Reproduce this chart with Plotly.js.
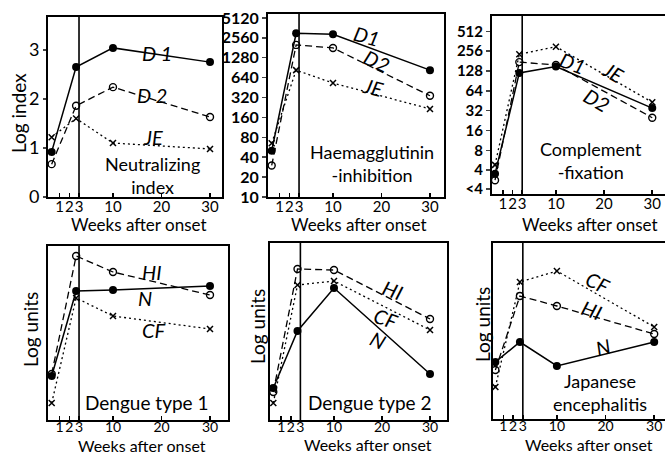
<!DOCTYPE html>
<html><head><meta charset="utf-8">
<script src="https://cdn.plot.ly/plotly-3.0.1.min.js"></script>
<style>html,body{margin:0;padding:0;background:#fff}</style>
</head><body><div id="chart" style="width:665px;height:454px"></div>
<script>
// ---- data ----
const weeks = [0.18, 2.7, 10, 30];
const xTickWeeks = [1, 2, 3, 10, 20, 30];
const xTickText = ['1', '2', '3', '10', '20', '30'];

// Neutralizing index (log index)
const neutD1 = [0.92, 2.65, 3.04, 2.75];
const neutD2 = [0.67, 1.86, 2.24, 1.63];
const neutJE = [1.22, 1.6, 1.1, 0.98];
const neutTicks = [0, 1, 2, 3];

// Haemagglutinin-inhibition titres
const hiD1 = [50, 3000, 2900, 830];
const hiD2 = [30, 2000, 1800, 340];
const hiJE = [65, 830, 530, 215];
const hiTicks = [10, 20, 40, 80, 160, 320, 640, 1280, 2560, 5120];

// Complement-fixation titres
const cfD1 = [3.5, 120, 150, 35];
const cfD2 = [2.8, 175, 158, 25];
const cfJE = [4.8, 230, 300, 43];
const cfTickVals = [2.05, 4, 8, 16, 32, 64, 128, 256, 512];
const cfTickText = ['<4', '4', '8', '16', '32', '64', '128', '256', '512'];

// Dengue type 1 (log units)
const den1N = [2.2, 6.45, 6.5, 6.7];
const den1HI = [2.3, 8.2, 7.4, 6.25];
const den1CF = [0.85, 6.1, 5.2, 4.55];
// Dengue type 2 (log units)
const den2N = [1.6, 4.45, 6.6, 2.3];
const den2HI = [1.4, 7.55, 7.5, 5.05];
const den2CF = [0.85, 6.75, 6.95, 4.5];
// Japanese encephalitis (log units)
const jeN = [2.85, 3.85, 2.65, 3.85];
const jeHI = [2.45, 6.15, 5.65, 4.25];
const jeCF = [1.6, 6.85, 7.4, 4.6];

// ---- broken week scale: first 3 weeks drawn at double width ----
function tx(w) { return w <= 3 ? 2 * w : w + 3; }
const xs = weeks.map(tx);
const xTickVals = xTickWeeks.map(tx);

const W = 665, H = 454;
const FONT = 'Lato, "Open Sans", sans-serif';

const styles = {
  solid: {line: {color: '#000', width: 1.5, dash: 'solid'},
          marker: {symbol: 'circle', size: 8, color: '#000'}},
  dashed: {line: {color: '#000', width: 1.3, dash: '7px,4px'},
           marker: {symbol: 'circle-open', size: 7, color: '#000', line: {width: 1.4, color: '#000'}}},
  dotted: {line: {color: '#000', width: 1.3, dash: '2px,3px'},
           marker: {symbol: 'x-thin', size: 6, color: '#000', line: {width: 1.5, color: '#000'}}}
};

function tr(y, style, ax, name) {
  return {x: xs, y: y, type: 'scatter', mode: 'lines+markers', name: name,
          xaxis: ax[0], yaxis: ax[1], line: styles[style].line, marker: styles[style].marker,
          showlegend: false, hoverinfo: 'skip'};
}

const data = [
  tr(neutD1, 'solid', ['x', 'y'], 'D1'),
  tr(neutD2, 'dashed', ['x', 'y'], 'D2'),
  tr(neutJE, 'dotted', ['x', 'y'], 'JE'),
  tr(hiD1, 'solid', ['x2', 'y2'], 'D1'),
  tr(hiD2, 'dashed', ['x2', 'y2'], 'D2'),
  tr(hiJE, 'dotted', ['x2', 'y2'], 'JE'),
  tr(cfD1, 'solid', ['x3', 'y3'], 'D1'),
  tr(cfD2, 'dashed', ['x3', 'y3'], 'D2'),
  tr(cfJE, 'dotted', ['x3', 'y3'], 'JE'),
  tr(den1N, 'solid', ['x4', 'y4'], 'N'),
  tr(den1HI, 'dashed', ['x4', 'y4'], 'HI'),
  tr(den1CF, 'dotted', ['x4', 'y4'], 'CF'),
  tr(den2N, 'solid', ['x5', 'y5'], 'N'),
  tr(den2HI, 'dashed', ['x5', 'y5'], 'HI'),
  tr(den2CF, 'dotted', ['x5', 'y5'], 'CF'),
  tr(jeN, 'solid', ['x6', 'y6'], 'N'),
  tr(jeHI, 'dashed', ['x6', 'y6'], 'HI'),
  tr(jeCF, 'dotted', ['x6', 'y6'], 'CF')
];

// panel frames in pixels: [left, right, top, bottom], x range
const panels = [
  {px: [48, 222, 17, 197], xr: [-0.39, 35.47]},
  {px: [268, 444, 14, 197], xr: [-0.40, 35.89]},
  {px: [492, 668, 16, 194], xr: [-0.27, 35.65]},
  {px: [48, 228, 246, 420], xr: [-0.40, 36.71]},
  {px: [270, 447, 243, 420], xr: [-0.33, 36.54]},
  {px: [493, 668, 243, 419], xr: [-0.13, 35.22]}
];

const layout = {
  width: W, height: H, margin: {l: 0, r: 0, t: 0, b: 0},
  paper_bgcolor: '#fff', plot_bgcolor: '#fff',
  font: {family: FONT, color: '#000', size: 16},
  showlegend: false, shapes: [], annotations: []
};

panels.forEach((p, i) => {
  const n = i + 1;
  const xk = n === 1 ? 'xaxis' : 'xaxis' + n;
  const yk = n === 1 ? 'yaxis' : 'yaxis' + n;
  const xid = n === 1 ? 'x' : 'x' + n;
  const yid = n === 1 ? 'y' : 'y' + n;
  const bottomRow = n > 3;
  layout[xk] = {
    domain: [p.px[0] / W, Math.min(1, p.px[1] / W)], anchor: yid,
    range: p.xr, showgrid: false, zeroline: false,
    showline: true, mirror: true, linecolor: '#000', linewidth: 2,
    tickmode: 'array', tickvals: xTickVals, ticktext: xTickText, tickangle: 0,
    ticks: 'inside', ticklen: 4, tickwidth: 1.5, tickcolor: '#000',
    tickfont: {family: FONT, size: bottomRow ? 14 : 15, color: '#000'},
    ticklabelstandoff: bottomRow ? -7 : -5
  };
  layout[yk] = {
    domain: [1 - p.px[3] / H, 1 - p.px[2] / H], anchor: xid,
    showgrid: false, zeroline: false,
    showline: true, mirror: true, linecolor: '#000', linewidth: 2,
    tickfont: {family: FONT, size: 18, color: '#000'}
  };
  layout.shapes.push({type: 'line', xref: xid, yref: yid + ' domain',
    x0: tx(3), x1: tx(3), y0: 0, y1: 1, line: {color: '#000', width: 1.6}});
});

// y axes specifics
Object.assign(layout.yaxis, {range: [0, 3.67], tickmode: 'array', tickvals: neutTicks,
  ticktext: neutTicks.map(String), ticks: 'outside', ticklen: 3, tickwidth: 1.5});
Object.assign(layout.yaxis2, {type: 'log', range: [1, Math.log10(5870)], tickmode: 'array',
  tickvals: hiTicks, ticktext: hiTicks.map(String), ticks: 'outside', ticklen: 4, tickwidth: 1.5,
  tickfont: {family: FONT, size: 16, color: '#000', weight: 'bold'}});
Object.assign(layout.yaxis3, {type: 'log', range: [Math.log10(1.73), Math.log10(879)], tickmode: 'array',
  tickvals: cfTickVals, ticktext: cfTickText, ticks: 'outside', ticklen: 4, tickwidth: 1.5,
  tickfont: {family: FONT, size: 15, color: '#000', weight: 'bold'}});
Object.assign(layout.yaxis4, {range: [0, 8.7], showticklabels: false, ticks: ''});
Object.assign(layout.yaxis5, {range: [0, 8.85], showticklabels: false, ticks: ''});
Object.assign(layout.yaxis6, {range: [0, 8.8], showticklabels: false, ticks: ''});

// text labels (pixel positions)
function ann(text, x, y, opts) {
  layout.annotations.push(Object.assign({text: text, xref: 'paper', yref: 'paper',
    x: x / W, y: 1 - y / H, xanchor: 'center', yanchor: 'middle', showarrow: false,
    font: {family: FONT, size: 19, color: '#000'}}, opts || {}));
}
const it = {font: {family: FONT, size: 20, color: '#000', style: 'italic'}};
function itr(a) { return Object.assign({}, it, {textangle: a}); }
const axTitle = {font: {family: FONT, size: 17, color: '#000'}};
const axTitleB = {font: {family: FONT, size: 16, color: '#000'}};
const twoLine = {font: {family: FONT, size: 18, color: '#000'}, align: 'center'};

// axis titles
[[139, 225], [359, 225], [590, 224]].forEach(p => ann('Weeks after onset', p[0], p[1], axTitle));
[[142, 445], [368, 444], [589, 444]].forEach(p => ann('Weeks after onset', p[0], p[1], axTitleB));
ann('Log index', 18, 113, {textangle: -90});
ann('Log units', 30, 330, {textangle: -90});
ann('Log units', 257, 327, {textangle: -90});
ann('Log units', 482, 325, {textangle: -90});

// panel 1
ann('D 1', 157, 53, it); ann('D 2', 152, 95, it); ann('JE', 153, 137, it);
ann('Neutralizing<br>index', 152, 175, twoLine);
// panel 2
ann('D1', 367, 36, itr(15)); ann('D2', 377, 61, itr(25)); ann('JE', 373, 87, itr(15));
ann('Haemagglutinin<br>-inhibition', 372, 163, twoLine);
// panel 3
ann('D1', 573, 63, itr(20)); ann('JE', 613, 72, itr(30)); ann('D2', 597, 100, itr(30));
ann('Complement<br>-fixation', 591, 160, twoLine);
// panel 4
ann('HI', 152, 272, it); ann('N', 145, 298, it); ann('CF', 153, 330, it);
ann('Dengue type 1', 147, 402);
// panel 5
ann('HI', 393, 290, itr(20)); ann('CF', 385, 318, itr(20)); ann('N', 378, 340, itr(25));
ann('Dengue type 2', 370, 402);
// panel 6
ann('CF', 597, 282, itr(25)); ann('HI', 592, 310, itr(20)); ann('N', 603, 347, itr(-15));
ann('Japanese<br>encephalitis', 600, 392, twoLine);

Plotly.newPlot('chart', data, layout, {displayModeBar: false, staticPlot: true});
</script></body></html>
